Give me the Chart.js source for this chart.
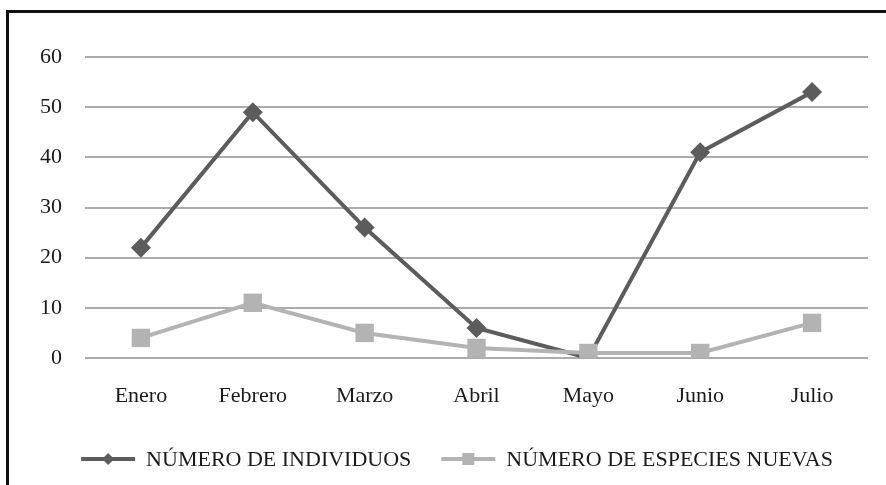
<!DOCTYPE html>
<html>
<head>
<meta charset="utf-8">
<script src="https://cdn.jsdelivr.net/npm/chart.js@4/dist/chart.umd.min.js"></script>
<style>
  html, body { margin: 0; padding: 0; background: #ffffff; overflow: hidden; width: 886px; height: 485px; }
  #frame { position: absolute; left: 6px; top: 10px; width: 920px; height: 520px; border: 3px solid #111111; box-sizing: border-box; }
  #wrap { position: absolute; left: 0; top: 0; width: 886px; height: 485px; }
</style>
</head>
<body>
<div id="frame"></div>
<div id="wrap"><canvas id="c" width="886" height="485"></canvas></div>
<script>
const categories = ["Enero", "Febrero", "Marzo", "Abril", "Mayo", "Junio", "Julio"];
const seriesNames = ["NÚMERO DE INDIVIDUOS", "NÚMERO DE ESPECIES NUEVAS"];
const individuos = [22, 49, 26, 6, 0, 41, 53];
const especiesNuevas = [4, 11, 5, 2, 1, 1, 7];
const yTicks = [0, 10, 20, 30, 40, 50, 60];

const DARK = "#5c5c5c";
const LIGHT = "#b3b3b3";
const TEXT = "#1a1a1a";
const FONT = "'Liberation Serif', 'DejaVu Serif', serif";
const FSIZE = 22;

// Legend drawn below the x axis: line + marker icon followed by the series name
const lineLegend = {
  id: "lineLegend",
  afterDraw(chart) {
    const ctx = chart.ctx;
    const ds = chart.data.datasets;
    const iconW = 54, gapText = 11, gapItem = 30;
    ctx.save();
    ctx.font = FSIZE + "px " + FONT;
    const widths = ds.map(d => ctx.measureText(d.label).width);
    let total = 0;
    widths.forEach((w, i) => { total += iconW + gapText + w + (i < ds.length - 1 ? gapItem : 0); });
    const cx = chart.width / 2 + 14;
    const cy = chart.chartArea.bottom + 101;
    let x = cx - total / 2;
    ds.forEach((d, i) => {
      ctx.strokeStyle = d.borderColor;
      ctx.fillStyle = d.borderColor;
      ctx.lineWidth = 4;
      ctx.beginPath(); ctx.moveTo(x, cy); ctx.lineTo(x + iconW, cy); ctx.stroke();
      const mx = x + iconW / 2;
      if (d.pointStyle === "rectRot") {
        ctx.beginPath(); ctx.moveTo(mx, cy - 6); ctx.lineTo(mx + 6, cy); ctx.lineTo(mx, cy + 6); ctx.lineTo(mx - 6, cy); ctx.closePath(); ctx.fill();
      } else {
        ctx.fillRect(mx - 6, cy - 6, 12, 12);
      }
      x += iconW + gapText;
      ctx.fillStyle = TEXT;
      ctx.textBaseline = "middle";
      ctx.textAlign = "left";
      ctx.fillText(d.label, x, cy + 1);
      x += widths[i] + gapItem;
    });
    ctx.restore();
  }
};

new Chart(document.getElementById("c"), {
  type: "line",
  data: {
    labels: categories,
    datasets: [
      {
        label: seriesNames[0], data: individuos, order: 1,
        borderColor: DARK, backgroundColor: DARK, borderWidth: 4,
        pointStyle: "rectRot", pointRadius: 10, pointBorderWidth: 0,
        pointBackgroundColor: DARK, tension: 0
      },
      {
        label: seriesNames[1], data: especiesNuevas, order: 0,
        borderColor: LIGHT, backgroundColor: LIGHT, borderWidth: 4,
        pointStyle: "rect", pointRadius: 13, pointBorderWidth: 0,
        pointBackgroundColor: LIGHT, tension: 0
      }
    ]
  },
  plugins: [lineLegend],
  options: {
    responsive: false,
    animation: false,
    layout: { padding: { left: 0, right: 18, top: 57, bottom: 65 } },
    plugins: {
      tooltip: { enabled: false },
      legend: { display: false }
    },
    scales: {
      x: {
        offset: true,
        grid: { display: false, drawTicks: false },
        border: { display: false },
        ticks: { color: TEXT, font: { family: FONT, size: FSIZE }, padding: 25, maxRotation: 0 },
        afterFit(s) { s.height = 62; }
      },
      y: {
        min: 0, max: 60,
        afterBuildTicks(s) { s.ticks = yTicks.map(v => ({ value: v })); },
        grid: { color: "#acacac", lineWidth: 2, drawTicks: false },
        border: { display: false },
        ticks: { color: TEXT, font: { family: FONT, size: FSIZE }, padding: 23 },
        afterFit(s) { s.width = 85; }
      }
    }
  }
});
</script>
</body>
</html>
